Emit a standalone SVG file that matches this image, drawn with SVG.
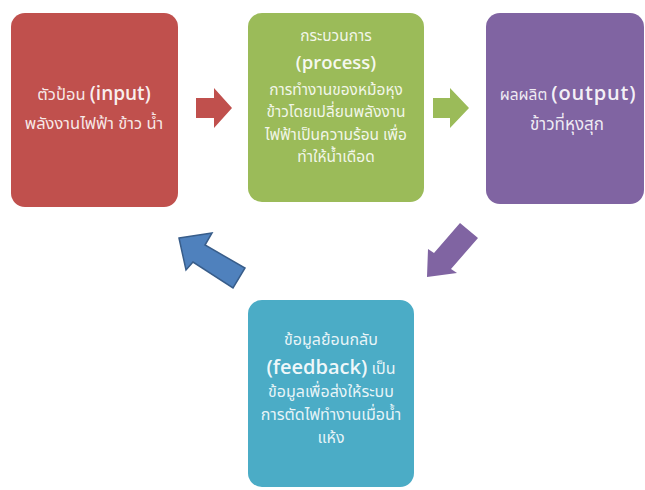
<svg xmlns="http://www.w3.org/2000/svg" width="645" height="490" viewBox="0 0 645 490">
<style>
.box{stroke:none}
.t{font-family:"Noto Sans Thai","Noto Sans","DejaVu Sans",Tahoma,sans-serif;font-size:16px;fill:#ffffff;fill-opacity:0.88;text-anchor:middle}
.en{font-family:"Open Sans","Noto Sans",sans-serif;font-size:19px;font-weight:600;fill:#ffffff;fill-opacity:0.92}
</style>
<rect width="645" height="490" fill="#ffffff"/>
<g id="input">
<rect class="box" x="11" y="13" width="167" height="194" rx="14" fill="#c0504d"/>
<text class="t" x="94" y="100" style="font-size:16.5px">ตัวป้อน <tspan class="en">(input)</tspan></text>
<text class="t" x="94" y="129" style="font-size:16.5px">พลังงานไฟฟ้า ข้าว น้ำ</text>
</g>
<g id="process">
<rect class="box" x="248" y="13" width="176" height="189" rx="14" fill="#9bbb59"/>
<text class="t" x="336" y="41" style="font-size:15.5px">กระบวนการ</text>
<text class="t en" x="336" y="69" style="font-size:18.5px">(process)</text>
<text class="t" x="336" y="95" style="font-size:15.5px">การทำงานของหม้อหุง</text>
<text class="t" x="336" y="117" style="font-size:15.5px">ข้าวโดยเปลี่ยนพลังงาน</text>
<text class="t" x="336" y="140" style="font-size:15.5px">ไฟฟ้าเป็นความร้อน เพื่อ</text>
<text class="t" x="336" y="162" style="font-size:15.5px">ทำให้น้ำเดือด</text>
</g>
<g id="output">
<rect class="box" x="486" y="13" width="158" height="191" rx="14" fill="#8064a2"/>
<text class="t" x="568" y="100" style="font-size:15.5px">ผลผลิต <tspan class="en" style="font-size:20px;letter-spacing:0.8px">(output)</tspan></text>
<text class="t" x="567" y="130" style="font-size:17px">ข้าวที่หุงสุก</text>
</g>
<g id="feedback">
<rect class="box" x="248" y="300" width="166" height="187" rx="14" fill="#4bacc6"/>
<text class="t" x="331" y="345">ข้อมูลย้อนกลับ</text>
<text class="t" x="331" y="374"><tspan class="en" style="font-size:20px">(feedback)</tspan> เป็น</text>
<text class="t" x="331" y="397">ข้อมูลเพื่อส่งให้ระบบ</text>
<text class="t" x="331" y="420">การตัดไฟทำงานเมื่อน้ำ</text>
<text class="t" x="331" y="443">แห้ง</text>
</g>
<g id="connectors">
<polygon points="196,98 214,98 214,88 232,108 214,128 214,118 196,118" fill="#c0504d"/>
<polygon points="433,98 450,98 450,88 469,108 450,128 450,118 433,118" fill="#9bbb59"/>
<polygon points="478,238 451,269 457,273 427,277 428,249 434,253 460,223" fill="#8064a2"/>
<polygon points="179,238 212,233 205,245 245,268 233,288 193,262 186,270" fill="#4f81bd" stroke="#385d8a" stroke-width="1.5" stroke-linejoin="miter"/>
</g>
</svg>
